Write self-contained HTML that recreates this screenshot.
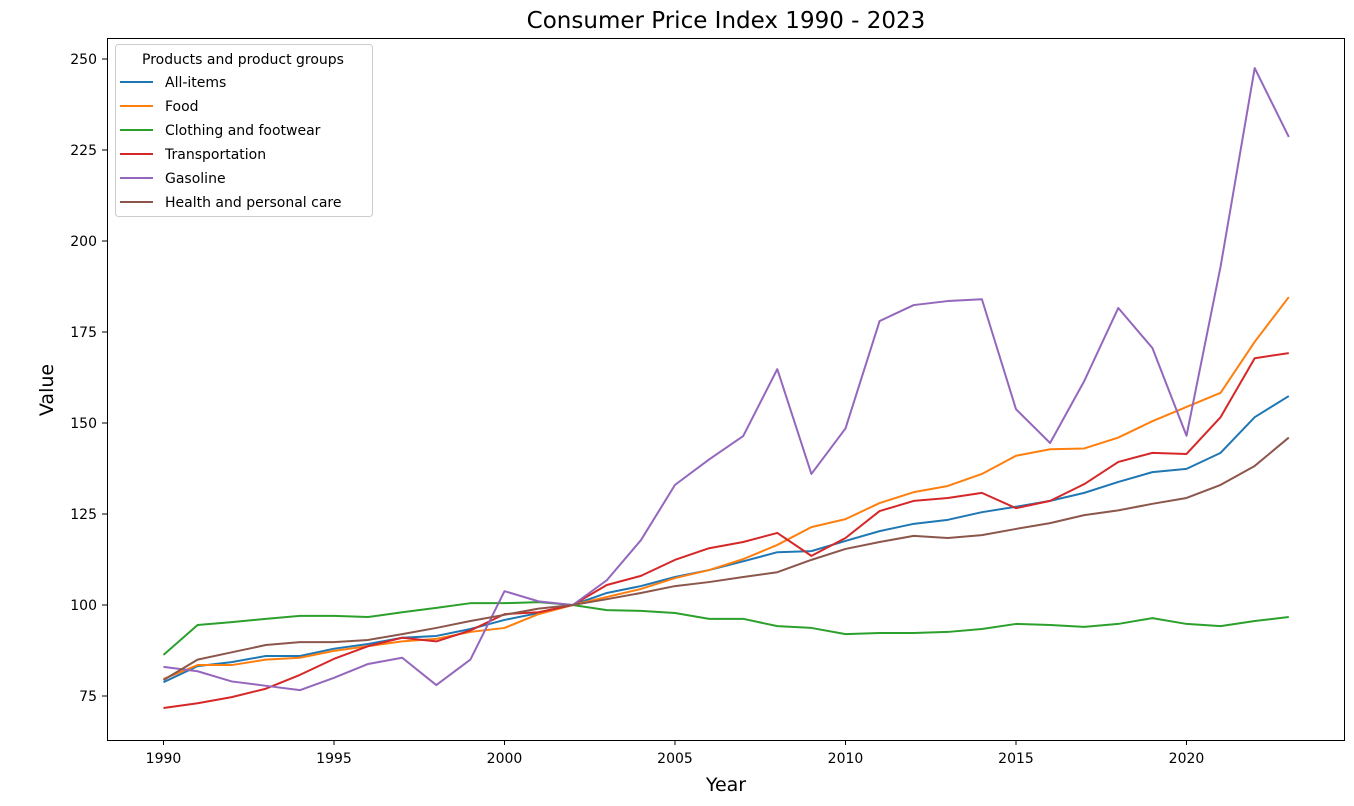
<!DOCTYPE html>
<html><head><meta charset="utf-8"><style>
body{margin:0;background:#fff;font-family:"Liberation Sans","DejaVu Sans",sans-serif}
svg text{font-family:"DejaVu Sans","Liberation Sans",sans-serif}
</style></head><body>
<svg id="chart" width="1354" height="801" xmlns="http://www.w3.org/2000/svg">
<rect width="1354" height="801" fill="#fff"/>
<text x="726" y="28" font-size="23" text-anchor="middle" fill="#000">Consumer Price Index 1990 - 2023</text>
<text x="726" y="791" font-size="19" text-anchor="middle">Year</text>
<text transform="translate(53,390) rotate(-90)" font-size="19" text-anchor="middle">Value</text>
<g id="ticks"></g>
<g id="lines"></g>
<rect x="107.5" y="38.5" width="1237" height="702" fill="none" stroke="#000" stroke-width="1"/>
<g id="legend"></g>
</svg>
<script>
const years=[];for(let y=1990;y<=2023;y++)years.push(y);
const allItems=[78.8,83.2,84.3,86,86,88,89.3,91,91.5,93.4,95.9,97.8,100,103.3,105.2,107.7,109.6,112,114.5,114.8,117.6,120.3,122.3,123.4,125.5,127,128.6,130.8,133.8,136.5,137.4,141.8,151.6,157.4];
const food=[79.7,83.5,83.5,85,85.5,87.4,88.7,90,90.7,92.6,93.7,97.5,100,102.2,104.4,107.4,109.6,112.6,116.5,121.4,123.6,128,131,132.7,136,141,142.8,143,146,150.5,154.4,158.3,172.3,184.6];
const clothing=[86.3,94.5,95.3,96.2,97,97,96.7,98,99.2,100.5,100.5,100.8,100,98.6,98.4,97.8,96.2,96.2,94.2,93.7,92,92.3,92.3,92.6,93.4,94.8,94.5,94,94.8,96.4,94.8,94.2,95.6,96.7];
const transportation=[71.7,73,74.7,77,80.8,85.2,88.7,91,90,93,97.5,98,100,105.5,108,112.4,115.6,117.3,119.8,113.5,118.4,125.8,128.6,129.4,130.8,126.6,128.6,133.2,139.3,141.8,141.5,151.6,167.8,169.2];
const gasoline=[83,81.8,79,77.8,76.6,80,83.8,85.5,78,85,103.8,101,100,106.8,117.8,133,140,146.4,164.8,136,148.5,178,182.4,183.5,184,153.8,144.5,161.5,181.6,170.6,146.5,193,247.5,228.6];
const health=[79.4,85,87,89,89.8,89.8,90.4,92,93.7,95.6,97.3,99,100,101.6,103.3,105.2,106.3,107.7,109,112.4,115.4,117.3,119,118.4,119.2,120.9,122.5,124.7,126,127.8,129.4,133,138.2,146];
const seriesNames=["All-items","Food","Clothing and footwear","Transportation","Gasoline","Health and personal care"];
const seriesData=[allItems,food,clothing,transportation,gasoline,health];
const colors=["#1f77b4","#ff7f0e","#2ca02c","#d62728","#9467bd","#8c564b"];
const xTicks=[1990,1995,2000,2005,2010,2015,2020];
const yTicks=[75,100,125,150,175,200,225,250];
const NS="http://www.w3.org/2000/svg";
const X=y=>163.5+(y-1990)*34.1;
const Y=v=>605-(v-100)*3.64;
function mk(t,a,p){const e=document.createElementNS(NS,t);for(const k in a)e.setAttribute(k,a[k]);p.appendChild(e);return e;}
const tg=document.getElementById('ticks');
xTicks.forEach(t=>{
 const l=mk('line',{x1:X(t),x2:X(t),y1:740,y2:745,stroke:'#000'},tg);
 
 
 const tx=mk('text',{x:X(t),y:763,'font-size':14,'text-anchor':'middle'},tg);tx.textContent=t;
 
 
});
yTicks.forEach(t=>{
 const l=mk('line',{x1:102,x2:107,y1:Y(t),y2:Y(t),stroke:'#000'},tg);
 
 
 const tx=mk('text',{x:97,y:Y(t)+5,'font-size':14,'text-anchor':'end'},tg);tx.textContent=t;
 
 
});
const lg=document.getElementById('lines');
seriesData.forEach((d,i)=>{
 const p=mk('polyline',{points:d.map((v,j)=>X(years[j])+','+Y(v)).join(' '),fill:'none',stroke:colors[i],'stroke-width':2,'stroke-linejoin':'round'},lg);
 
 
});
const L=document.getElementById('legend');
mk('rect',{x:115.5,y:44.5,width:257,height:172,rx:3,fill:'#fff','fill-opacity':0.8,stroke:'#ccc'},L);
const lt=mk('text',{x:243,y:64,'font-size':14,'text-anchor':'middle'},L);lt.textContent='Products and product groups';


seriesNames.forEach((n,i)=>{
 const y=82+i*24;
 const ln=mk('line',{x1:120,x2:153,y1:y,y2:y,stroke:colors[i],'stroke-width':2},L);
 
 
 const t=mk('text',{x:165,y:y+5,'font-size':14},L);t.textContent=n;
 
 
});
</script>
</body></html>
